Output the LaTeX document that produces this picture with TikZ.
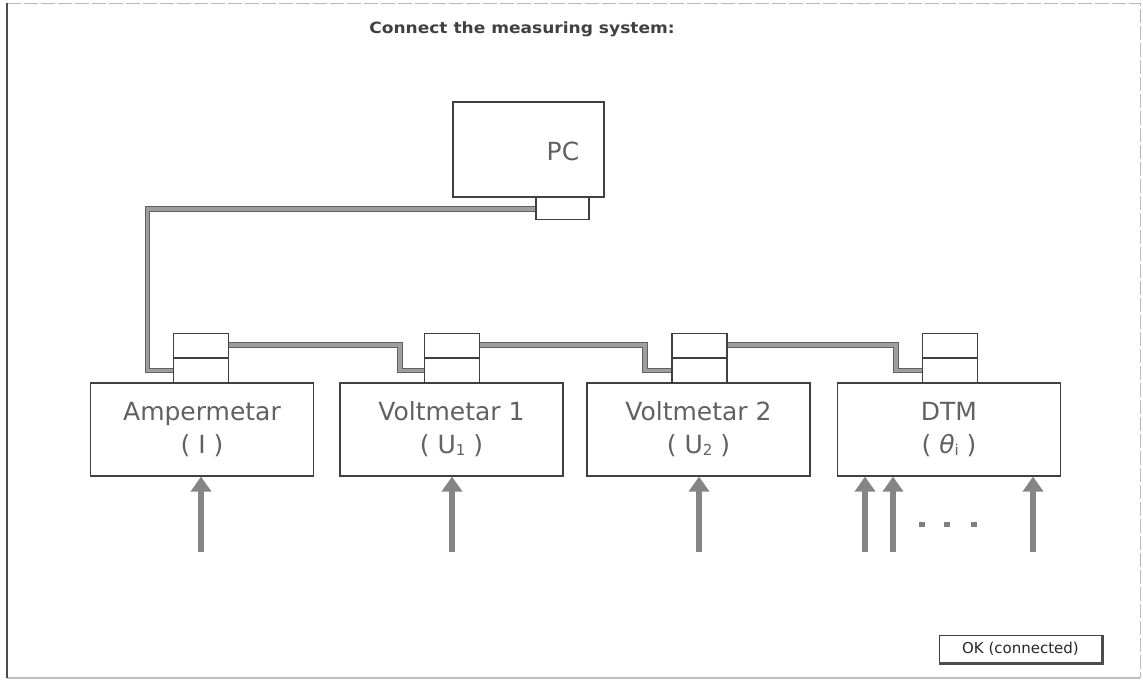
\documentclass[tikz,border=0pt]{standalone}
\usepackage{fontspec}
\setmainfont{DejaVu Sans}
\usetikzlibrary{arrows.meta}
\newcommand{\subtxt}[1]{\raisebox{-2pt}{\fontsize{15}{15}\selectfont #1}}
\tikzset{
  devbox/.style={draw=black!75, line width=1.2pt, minimum width=223pt, minimum height=93pt, inner sep=0pt,
    text=black!62, font=\fontsize{25}{33}\selectfont, align=center},
  porthalf/.style={draw=black!75, line width=1.2pt, minimum width=55pt, minimum height=24pt, inner sep=0pt},
  cable/.style={draw=black!62, double=black!38, line width=1pt, double distance=3.8pt},
  inarrow/.style={draw=black!48, line width=6.5pt, -{Triangle[width=20pt,length=15pt]}},
  dotsq/.style={fill=black!50, minimum width=6pt, minimum height=5pt, inner sep=0pt},
}
\begin{document}
\begin{tikzpicture}[x=1pt, y=-1pt]
\useasboundingbox (0,0) rectangle (1143,681);
% outer frame
\draw[gray!55, line width=1pt, dash pattern=on 14pt off 3pt] (7,3) -- (1140,3) -- (1140,678);
\draw[gray!50, line width=1.2pt] (7,678) -- (1140,678);
\draw[black!70, line width=1.4pt] (7,3) -- (7,678);
% title
\node[font=\bfseries\fontsize{15.5}{15.5}\selectfont, text=black!75, xscale=1.1, transform shape] (title) at (522,29) {Connect the measuring system:};
% PC
\node[draw=black!75, line width=1.2pt, minimum width=151pt, minimum height=95pt, inner sep=0pt] (pc) at (528.5,149.5) {};
\node[text=black!62, font=\fontsize{25}{25}\selectfont] (pctxt) at (563,151) {PC};
\node[draw=black!75, line width=1.2pt, minimum width=53pt, minimum height=22pt, inner sep=0pt, anchor=north] (pcport) at (562.5,197) {};
% devices
\node[devbox] (am) at (202,429.5) {Ampermetar\\( I )};
\node[devbox] (v1) at (451.5,429.5) {Voltmetar 1\\( U\subtxt{1} )};
\node[devbox] (v2) at (698.5,429.5) {Voltmetar 2\\( U\subtxt{2} )};
\node[devbox] (dtm) at (949,429.5) {DTM\\( {\itshape θ}\subtxt{i} )};
% ports
\foreach \n/\x in {am/201, vone/452, vtwo/699.5, dtm/950}{
  \node[porthalf, anchor=south] (\n lo) at (\x,383) {};
  \node[porthalf, anchor=south] (\n up) at (\n lo.north) {};
}
% cables
\draw[cable] (pcport.west) -- ++(-388,0) |- (amlo.west);
\draw[cable] (amup.east) -- ++(171,0) |- (vonelo.west);
\draw[cable] (voneup.east) -- ++(165,0) |- (vtwolo.west);
\draw[cable] (vtwoup.east) -- ++(168,0) |- (dtmlo.west);
% input arrows
\coordinate (a1) at (201,552);
\coordinate (a2) at (452,552);
\coordinate (a3) at (699,552);
\coordinate (a4) at (865,552);
\coordinate (a5) at (893,552);
\coordinate (a6) at (1033,552);
\draw[inarrow] (a1) -- (a1 |- am.south);
\draw[inarrow] (a2) -- (a2 |- v1.south);
\draw[inarrow] (a3) -- (a3 |- v2.south);
\draw[inarrow] (a4) -- (a4 |- dtm.south);
\draw[inarrow] (a5) -- (a5 |- dtm.south);
\draw[inarrow] (a6) -- (a6 |- dtm.south);
% dots
\node[dotsq] (d1) at (922,524) {};
\node[dotsq] (d2) at (947,524) {};
\node[dotsq] (d3) at (974,524) {};
% OK button
\node[draw=black!75, line width=1pt, minimum width=163pt, minimum height=28pt, inner sep=0pt,
  font=\fontsize{15}{15}\selectfont, text=black!85] (ok) at (1020.5,649) {OK (connected)};
\draw[black!70, line width=2.5pt] (ok.south west) -- (ok.south east) -- (ok.north east);
\end{tikzpicture}
\end{document}
